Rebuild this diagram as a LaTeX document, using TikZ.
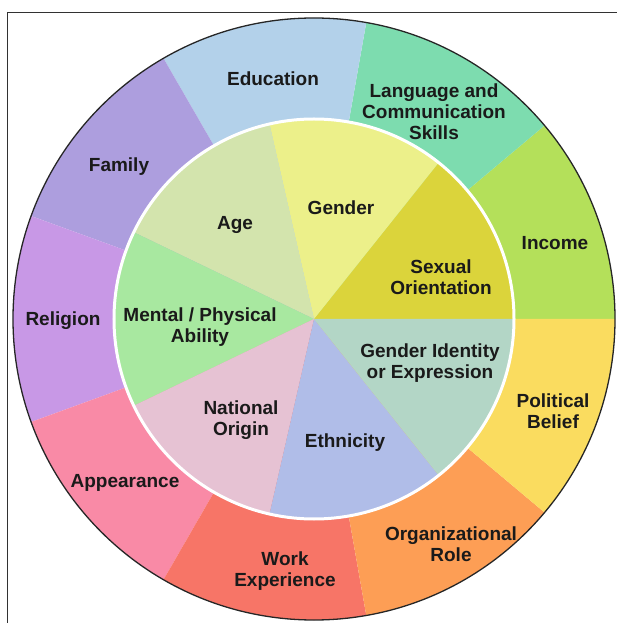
\documentclass[tikz,border=0pt]{standalone}
\usepackage{fontspec}
\setmainfont{Liberation Sans}
\usepackage{xcolor}
\usepackage{tikz}
\usetikzlibrary{positioning,calc}

% outer ring colours
\definecolor{cEducation}{RGB}{179,209,234}
\definecolor{cLanguage}{RGB}{125,220,175}
\definecolor{cIncome}{RGB}{180,224,90}
\definecolor{cPolitical}{RGB}{250,220,95}
\definecolor{cRole}{RGB}{253,158,85}
\definecolor{cWork}{RGB}{247,117,103}
\definecolor{cAppearance}{RGB}{249,138,166}
\definecolor{cReligion}{RGB}{200,152,230}
\definecolor{cFamily}{RGB}{173,158,222}
% inner disc colours
\definecolor{cSexual}{RGB}{219,212,59}
\definecolor{cGender}{RGB}{236,240,138}
\definecolor{cAge}{RGB}{211,228,173}
\definecolor{cAbility}{RGB}{168,232,160}
\definecolor{cOrigin}{RGB}{230,194,211}
\definecolor{cEthnicity}{RGB}{176,189,232}
\definecolor{cIdentity}{RGB}{179,214,198}
\definecolor{labeltext}{RGB}{26,26,26}
\definecolor{framegray}{RGB}{50,50,50}

\tikzset{
  wheellabel/.style={font=\bfseries\fontsize{19}{21}\selectfont, text=labeltext, align=center, inner sep=0pt}
}

\begin{document}
\begin{tikzpicture}[x=1pt, y=1pt]
\useasboundingbox (-314,-304) rectangle (303,319);

% frame (cut at right and bottom)
\draw[framegray, line width=1pt] (-306,-304) -- (-306,306) -- (303,306);

% outer ring: 9 sectors of 40 degrees
\foreach \c [count=\i from 0] in {cIncome,cLanguage,cEducation,cFamily,cReligion,cAppearance,cWork,cRole,cPolitical}
  \fill[\c] (0,0) -- (\i*40:301) arc[start angle=\i*40, end angle=\i*40+40, radius=301] -- cycle;
\draw[black!85, line width=1.3pt] (0,0) circle (301);

% inner disc: 7 equal sectors
\foreach \c [count=\i from 0] in {cSexual,cGender,cAge,cAbility,cOrigin,cEthnicity,cIdentity}
  \fill[\c] (0,0) -- ({\i*360/7}:200) arc[start angle={\i*360/7}, end angle={(\i+1)*360/7}, radius=200] -- cycle;
\draw[white, line width=3pt] (0,0) circle (200);

% outer labels
\node[wheellabel] (education) at (-41,240) {Education};
\node[wheellabel] (language) at (120,207) {Language and\\Communication\\Skills};
\node[wheellabel] (income) at (241,76) {Income};
\node[wheellabel] (political) at (239,-92) {Political\\Belief};
\node[wheellabel] (role) at (137,-225) {Organizational\\Role};
\node[wheellabel] (work) at (-29,-252) {Work\\Experience};
\node[wheellabel] (appearance) at (-189,-164) {Appearance};
\node[wheellabel] (religion) at (-251,-2) {Religion};
\node[wheellabel] (family) at (-195,152) {Family};

% inner labels
\node[wheellabel] (gender) at (27,111) {Gender};
\node[wheellabel] (age) at (-79,94) {Age};
\node[wheellabel] (sexual) at (127,42) {Sexual\\Orientation};
\node[wheellabel] (ability) at (-114,-8) {Mental / Physical\\Ability};
\node[wheellabel] (origin) at (-73,-101) {National\\Origin};
\node[wheellabel] (ethnicity) at (31,-124) {Ethnicity};
\node[wheellabel] (identity) at (116,-44) {Gender Identity\\or Expression};

\end{tikzpicture}
\end{document}
